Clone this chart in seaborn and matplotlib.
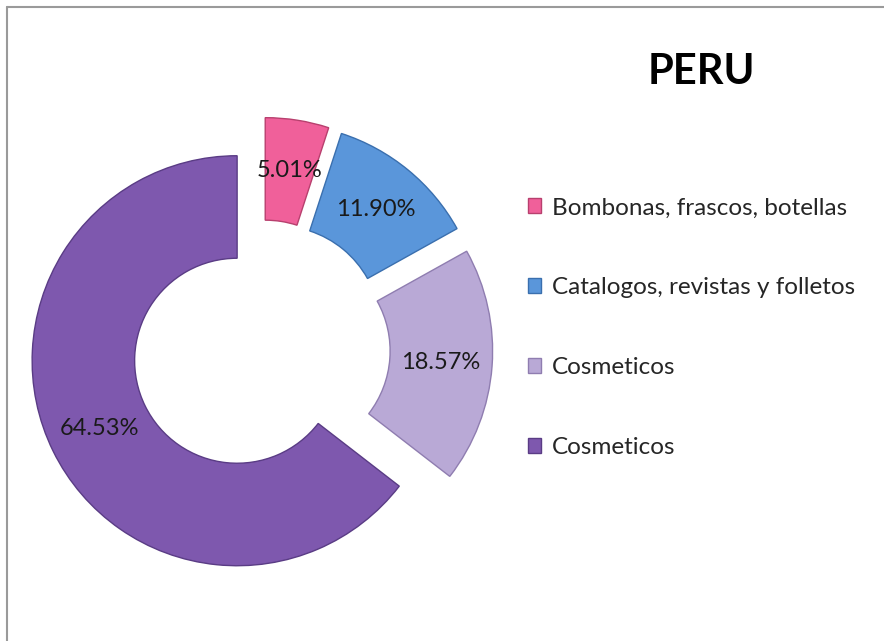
import matplotlib
matplotlib.use('Agg')
import matplotlib.pyplot as plt
import seaborn as sns

labels = ['Bombonas, frascos, botellas', 'Catalogos, revistas y folletos', 'Cosmeticos', 'Cosmeticos']
values = [5.01, 11.90, 18.57, 64.53]
colors = ['#F0609A', '#5A96DA', '#B9A9D6', '#7E58AE']
edges = ['#B8406E', '#3A6FAE', '#8F7DB0', '#5A3C85']

sns.set_theme(style = 'white')
plt.rcParams['font.family'] = ['Lato', 'DejaVu Sans']
palette = sns.color_palette(colors)

fig = plt.figure(figsize = (8.84, 6.41), dpi = 100)
ax = fig.add_axes([0.0054, 0.0558, 0.5798, 0.7995])

vals = iter(values)
wedges, texts, autotexts = ax.pie(
    values,
    colors = palette,
    startangle = 90,
    counterclock = False,
    explode = [0.13] * len(values),
    radius = 1.0,
    autopct = lambda p: f'{next(vals):.2f}%',
    pctdistance = 0.75,
    wedgeprops = dict(width = 0.5, linewidth = 1.0),
    textprops = dict(fontsize = 17, color = '#1a1a1a'),
)
for w, ec in zip(wedges, edges):
    w.set_edgecolor(ec)

ax.set_xlim(-1.25, 1.25)
ax.set_ylim(-1.25, 1.25)
ax.set_aspect('equal')
ax.axis('off')

fig.text(0.793, 0.887, 'PERU', fontsize = 30, fontweight = 'bold', ha = 'center', va = 'center', color = '#000000')

fig.legend(wedges, labels, loc = 'upper left', bbox_to_anchor = (0.583, 0.711),
           frameon = False, fontsize = 17.5, handlelength = 0.55, handleheight = 0.55,
           handletextpad = 0.45, labelspacing = 2.42, borderpad = 0)

fig.add_artist(plt.Line2D([0.008, 0.008], [0.0, 0.989], color = '#9a9a9a', lw = 1.5, transform = fig.transFigure))
fig.add_artist(plt.Line2D([0.008, 1.0], [0.989, 0.989], color = '#9a9a9a', lw = 1.5, transform = fig.transFigure))

fig.savefig('out.png', dpi = 100, facecolor = 'white')
